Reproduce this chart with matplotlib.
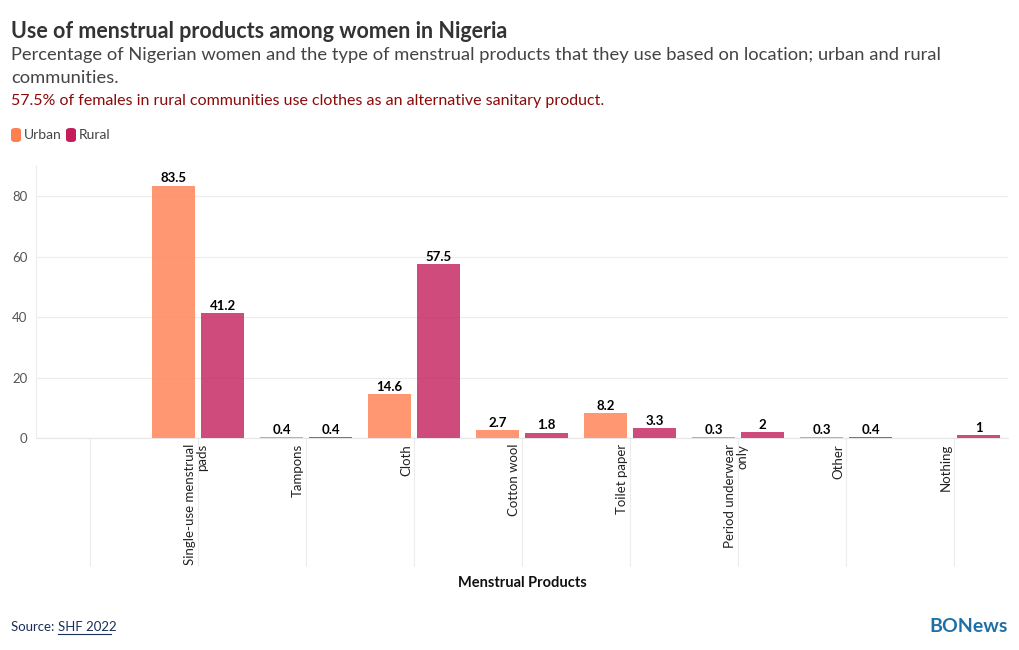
import matplotlib
matplotlib.use("Agg")
import matplotlib.pyplot as plt
from matplotlib.patches import FancyBboxPatch
import matplotlib.transforms as mtransforms
import numpy as np

categories = ["", "Single-use menstrual\npads", "Tampons", "Cloth", "Cotton wool",
              "Toilet paper", "Period underwear\nonly", "Other", "Nothing"]
urban = [None, 83.5, 0.4, 14.6, 2.7, 8.2, 0.3, 0.3, 0]
rural = [None, 41.2, 0.4, 57.5, 1.8, 3.3, 2, 0.4, 1]
yticks = [0, 20, 40, 60, 80]

URBAN_C = "#FF7F4F"
RURAL_C = "#C41E5A"
FONT = "Lato"

W, H = 1020, 650
fig = plt.figure(figsize=(W / 100, H / 100), dpi=100)
fig.patch.set_facecolor("white")

def px(x0, y0, x1, y1):
    return [x0 / W, 1 - y1 / H, (x1 - x0) / W, (y1 - y0) / H]

ax = fig.add_axes(px(36, 166, 1008, 438))
x = np.arange(len(categories))
bw = 0.39
off = 0.227

for i in range(len(categories)):
    for vals, sgn, col in ((urban, -1, URBAN_C), (rural, 1, RURAL_C)):
        v = vals[i]
        if v is None or v == 0:
            continue
        ax.bar(x[i] + sgn * off, v, width=bw, color=col, alpha=0.8, linewidth=0, zorder=3)
        lab = f"{v:g}"
        ax.text(x[i] + sgn * off, v + 0.4, lab, ha="center", va="bottom",
                fontsize=9.5, fontweight="bold", color="black", family=FONT, zorder=4)

ax.set_xlim(-0.5, len(categories) - 0.5)
ax.set_ylim(0, 90)
ax.set_yticks(yticks)
ax.set_yticklabels([str(t) for t in yticks], fontsize=9.5, color="#555555", family=FONT)
ax.tick_params(axis="y", length=0, pad=6)
ax.grid(axis="y", color="#ececec", linewidth=0.8, zorder=0)
ax.set_axisbelow(True)

ax.set_xticks(x)
ax.set_xticklabels([])
ax.tick_params(axis="x", length=92, width=0.8, color="#ececec", direction="out")

for s in ("top", "right"):
    ax.spines[s].set_visible(False)
ax.spines["left"].set_color("#ececec")
ax.spines["left"].set_linewidth(0.8)
ax.spines["bottom"].set_color("#e6e6e6")
ax.spines["bottom"].set_linewidth(0.8)
ax.spines["bottom"].set_zorder(1)

# category labels (rotated)
offset = mtransforms.ScaledTranslation(-14 / 100, -6 / 100, fig.dpi_scale_trans)
trans = ax.get_xaxis_transform() + offset
for i, c in enumerate(categories):
    if not c:
        continue
    ax.text(x[i], 0, c, rotation=90, rotation_mode="anchor", ha="right", va="top",
            transform=trans, fontsize=9.5, color="#222222", family=FONT, linespacing=1.05)

fig.text(522 / W, 1 - 583 / H, "Menstrual Products", ha="center", va="center",
         fontsize=10.5, fontweight="bold", color="#111111", family=FONT)

# titles
fig.text(11 / W, 1 - 31 / H, "Use of menstrual products among women in Nigeria",
         ha="left", va="center", fontsize=15.5, fontweight="bold", color="#333333", family=FONT)
fig.text(11 / W, 1 - 55 / H,
         "Percentage of Nigerian women and the type of menstrual products that they use based on location; urban and rural",
         ha="left", va="center", fontsize=13.2, color="#444444", family=FONT)
fig.text(11 / W, 1 - 78 / H, "communities.", ha="left", va="center",
         fontsize=13.2, color="#444444", family=FONT)
fig.text(11 / W, 1 - 101 / H,
         "57.5% of females in rural communities use clothes as an alternative sanitary product.",
         ha="left", va="center", fontsize=11.5, color="#8B0A0A", family=FONT)

# legend
for (x0, lab, col) in ((11, "Urban", URBAN_C), (66, "Rural", RURAL_C)):
    p = FancyBboxPatch((x0 / W, 1 - 142 / H), 10 / W, 14 / H,
                       boxstyle="round,pad=0,rounding_size=0.004",
                       transform=fig.transFigure, facecolor=col, edgecolor="none")
    fig.patches.append(p)
    fig.text((x0 + 13) / W, 1 - 135 / H, lab, ha="left", va="center",
             fontsize=10, color="#444444", family=FONT)

# footer
t = fig.text(11 / W, 1 - 627 / H, "Source: ", ha="left", va="center",
             fontsize=9.5, color="#1a2f5a", family=FONT)
fig.canvas.draw()
bb = t.get_window_extent()
fig.text(bb.x1 / W, 1 - 627 / H, "SHF 2022", ha="left", va="center",
         fontsize=9.5, color="#1a2f5a", family=FONT)
fig.lines.append(plt.Line2D([bb.x1 / W, (bb.x1 + 53) / W], [1 - 634 / H, 1 - 634 / H],
                            transform=fig.transFigure, color="#1a2f5a", linewidth=0.8))
fig.text(1008 / W, 1 - 626 / H, "BONews", ha="right", va="center",
         fontsize=14, fontweight="bold", color="#1f6fa5", family=FONT)

fig.savefig("out.png", dpi=100, facecolor="white")
